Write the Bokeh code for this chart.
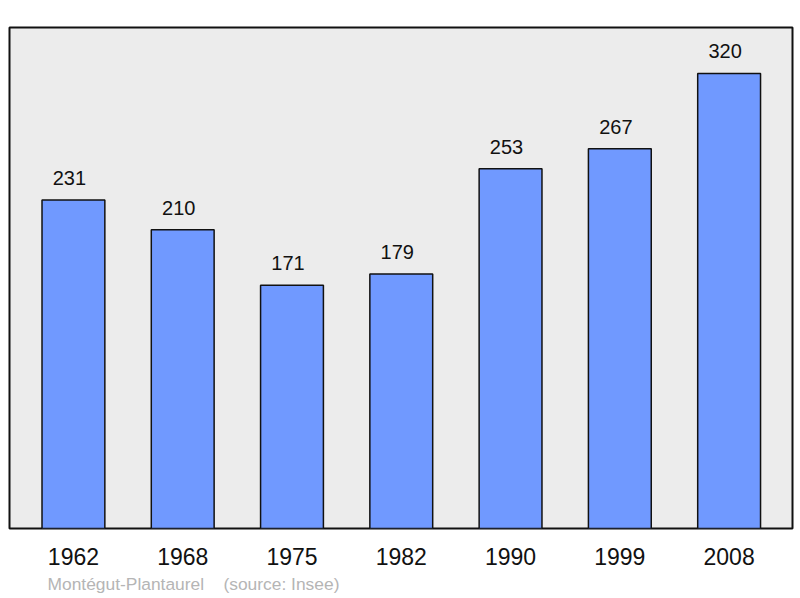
from bokeh.plotting import figure
from bokeh.models import ColumnDataSource, Range1d, FixedTicker, Title
from bokeh.core.properties import value
from bokeh.embed import file_html
from bokeh.resources import INLINE

years = ["1962", "1968", "1975", "1982", "1990", "1999", "2008"]
population = [231, 210, 171, 179, 253, 267, 320]
source_text = "Montégut-Plantaurel\u00a0\u00a0\u00a0\u00a0(source: Insee)"

xs = list(range(len(years)))
src = ColumnDataSource(dict(x=xs, top=population, label=[str(v) for v in population]))

p = figure(frame_width=783, frame_height=501, output_backend="svg", toolbar_location=None,
           x_range=Range1d(-0.585, 6.58), y_range=Range1d(0, 352.3),
           min_border_left=9, min_border_right=6, min_border_top=27, min_border_bottom=10)
p.background_fill_color = "#ececec"
p.border_fill_color = "white"
p.outline_line_color = "#111111"
p.outline_line_width = 2
p.grid.visible = False
p.yaxis.visible = False

p.vbar(x="x", top="top", width=0.575, source=src, fill_color="#7099ff",
       line_color="#111111", line_width=1.5)
p.text(x="x", y="top", text="label", source=src, text_align="center",
       text_baseline="bottom", y_offset=-15, x_offset=-4, text_font=value("Liberation Sans"),
       text_font_size="20px", text_color="#111111")

ax = p.xaxis[0]
ax.ticker = FixedTicker(ticks=xs)
ax.major_label_overrides = {i: y for i, y in enumerate(years)}
ax.axis_line_color = None
ax.major_tick_line_color = None
ax.minor_tick_line_color = None
ax.major_label_standoff = 13
ax.major_label_text_font = "Liberation Sans"
ax.major_label_text_font_size = "23px"
ax.major_label_text_color = "#111111"

t = Title(text=source_text, align="left", offset=38,
          text_font="Liberation Sans", text_font_size="17.4px", text_font_style="normal",
          text_color="#b5b5b5", standoff=8)
p.add_layout(t, "below")

open("out.html", "w").write(file_html(p, INLINE))
